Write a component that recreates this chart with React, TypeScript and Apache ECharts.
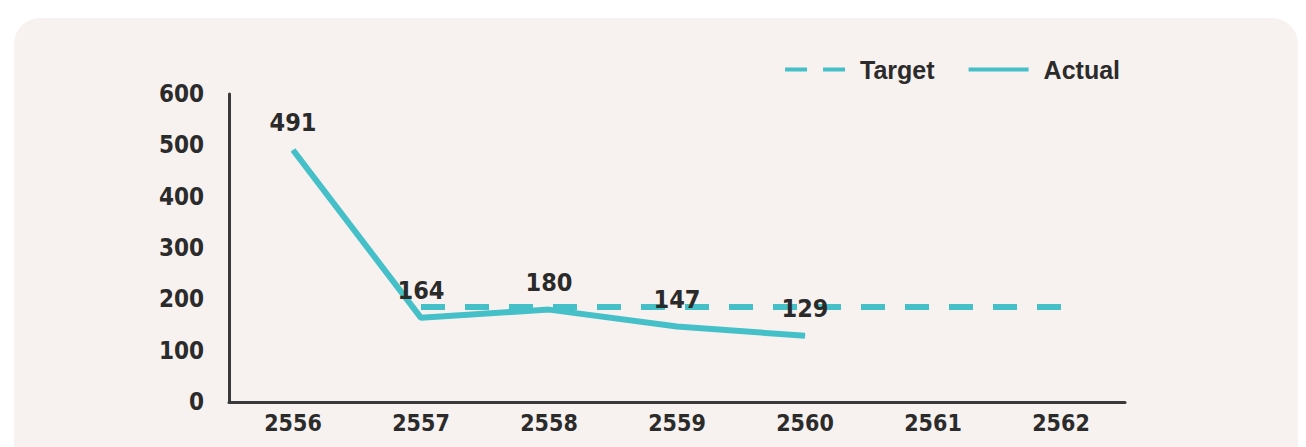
import React, { useEffect, useRef } from "react";
import * as echarts from "echarts";

const years = ["2556", "2557", "2558", "2559", "2560", "2561", "2562"];
const actual: (number | null)[] = [491, 164, 180, 147, 129, null, null];
const target: (number | null)[] = [null, 185, 185, 185, 185, 185, 185];
const yTicks = [0, 100, 200, 300, 400, 500, 600];

const TEAL = "#45c0c8";
const INK = "#2b2b2b";
const NUM_FONT = "DejaVu Sans Condensed";

export default function App() {
  const ref = useRef<HTMLDivElement>(null);
  useEffect(() => {
    const chart = echarts.init(ref.current!, undefined, { renderer: "svg" });
    chart.setOption({
      animation: false,
      backgroundColor: "#ffffff",
      graphic: [
        {
          type: "rect",
          z: -10,
          shape: { x: 14, y: 18, width: 1284, height: 460, r: 26 },
          style: { fill: "#f7f2ef" },
        },
      ],
      legend: {
        top: 52,
        right: 181,
        itemWidth: 60,
        itemHeight: 5,
        itemGap: 34,
        textStyle: {
          fontSize: 25,
          color: INK,
          fontWeight: "bold",
          fontFamily: "Liberation Sans",
          padding: [0, 0, 0, 10],
        },
        data: [
          { name: "Target", icon: "path://M0,0H22V4H0Z M38,0H60V4H38Z", itemStyle: { color: TEAL } },
          { name: "Actual", icon: "path://M0,0H60V4H0Z", itemStyle: { color: TEAL } },
        ],
      },
      grid: { left: 229, right: 181, top: 94, bottom: 45 },
      xAxis: {
        type: "category",
        data: years,
        boundaryGap: true,
        axisLine: { lineStyle: { color: "#3a3a3a", width: 3 } },
        axisTick: { show: false },
        axisLabel: { fontSize: 23, color: INK, margin: 9, fontWeight: "bold", fontFamily: NUM_FONT },
      },
      yAxis: {
        type: "value",
        min: yTicks[0],
        max: yTicks[yTicks.length - 1],
        interval: 100,
        splitLine: { show: false },
        axisLine: { show: true, lineStyle: { color: "#3a3a3a", width: 3 } },
        axisTick: { show: false },
        axisLabel: { fontSize: 24, color: INK, margin: 25, fontWeight: "bold", fontFamily: NUM_FONT },
      },
      series: [
        {
          name: "Target",
          type: "line",
          data: target,
          symbol: "none",
          lineStyle: { color: TEAL, width: 6, type: [24, 20] },
          itemStyle: { color: TEAL },
          z: 2,
        },
        {
          name: "Actual",
          type: "line",
          data: actual,
          symbol: "circle",
          symbolSize: 1,
          showSymbol: true,
          lineStyle: { color: TEAL, width: 6 },
          itemStyle: { color: TEAL },
          label: {
            show: true,
            position: "top",
            distance: 14,
            fontSize: 25,
            fontWeight: "bold",
            color: "#2a2a2a",
            fontFamily: NUM_FONT,
          },
          z: 3,
        },
      ],
    });
    return () => chart.dispose();
  }, []);
  return (
    <div style={{ position: "fixed", left: 0, top: 0, width: 1306, height: 447, background: "#fff" }}>
      <div ref={ref} style={{ width: 1306, height: 447 }} />
    </div>
  );
}
